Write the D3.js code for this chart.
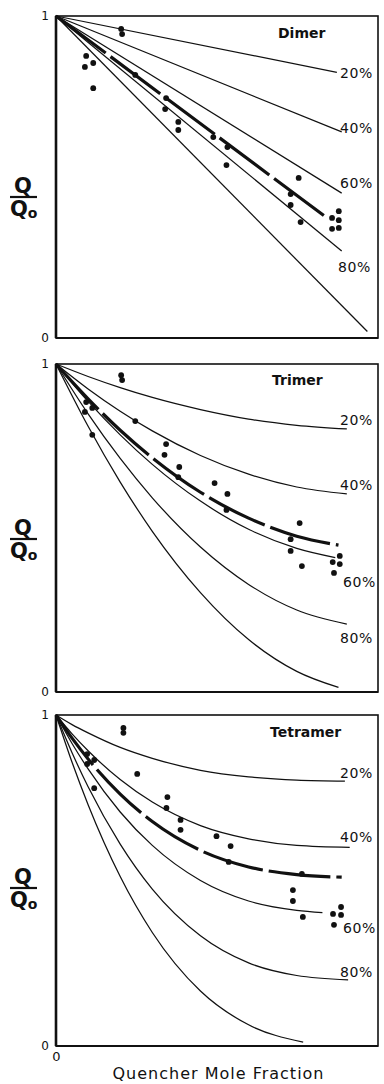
<!DOCTYPE html>
<html><head><meta charset="utf-8">
<script src="https://cdn.jsdelivr.net/npm/d3@7"></script>
<style>
html,body{margin:0;padding:0;background:#fff;}
svg{display:block;}
text{font-family:"DejaVu Sans",sans-serif;fill:#111;}
</style></head>
<body>
<script>
// ---------- DATA ----------
const panelNames = ["Dimer", "Trimer", "Tetramer"];
const percentLabels = ["20%", "40%", "60%", "80%"];
const yTickLabels = ["0", "1"];
const xTickLabels = ["0"];
const xAxisTitle = "Quencher Mole Fraction";

// Dimer (straight lines)
const dimer20 = [[0,1],[0.875,0.825]];
const dimer40 = [[0,1],[0.89,0.64]];
const dimer60 = [[0,1],[0.89,0.45]];
const dimer80 = [[0,1],[0.89,0.27]];
const dimer100 = [[0,1],[0.97,0.02]];
const dimerFit = [[0,1],[0.84,0.376]];

// Trimer
const trimer20 = [[0,1],[0.1,0.962],[0.2,0.928],[0.3,0.898],[0.45,0.861],[0.6,0.832],[0.75,0.813],[0.906,0.802]];
const trimer40 = [[0,1],[0.1,0.924],[0.2,0.856],[0.3,0.796],[0.45,0.721],[0.6,0.664],[0.75,0.625],[0.906,0.604]];
const trimer60 = [[0,1],[0.1,0.886],[0.2,0.784],[0.3,0.694],[0.45,0.582],[0.6,0.496],[0.75,0.438],[0.87,0.41]];
const trimer80 = [[0,1],[0.1,0.848],[0.2,0.712],[0.3,0.592],[0.45,0.442],[0.6,0.328],[0.75,0.25],[0.906,0.207]];
const trimer100 = [[0,1],[0.1,0.81],[0.2,0.64],[0.3,0.49],[0.45,0.303],[0.6,0.16],[0.75,0.063],[0.88,0.014]];
const trimerFit = [[0,1],[0.1,0.894],[0.2,0.798],[0.3,0.714],[0.45,0.609],[0.6,0.53],[0.75,0.475],[0.88,0.448]];

// Tetramer
const tetramer20 = [[0,1],[0.05,0.971],[0.1,0.946],[0.2,0.902],[0.3,0.869],[0.45,0.833],[0.6,0.813],[0.75,0.803],[0.9,0.8]];
const tetramer40 = [[0,1],[0.05,0.943],[0.1,0.892],[0.2,0.805],[0.3,0.737],[0.45,0.666],[0.6,0.626],[0.75,0.606],[0.915,0.6]];
const tetramer60 = [[0,1],[0.05,0.914],[0.1,0.837],[0.2,0.707],[0.3,0.606],[0.45,0.5],[0.6,0.438],[0.75,0.41],[0.83,0.403]];
const tetramer80 = [[0,1],[0.05,0.886],[0.1,0.783],[0.2,0.61],[0.3,0.474],[0.45,0.333],[0.6,0.251],[0.75,0.213],[0.91,0.2]];
const tetramer100 = [[0,1],[0.05,0.857],[0.1,0.729],[0.2,0.512],[0.3,0.343],[0.45,0.166],[0.6,0.064],[0.77,0.012]];
const tetramerFit = [[0,1],[0.05,0.93],[0.1,0.867],[0.2,0.761],[0.3,0.678],[0.45,0.591],[0.6,0.541],[0.75,0.518],[0.89,0.51]];

// Measured points
const dimerPoints = [[0.203,0.96],[0.206,0.944],[0.094,0.876],[0.09,0.842],[0.116,0.854],[0.116,0.776],[0.247,0.817],[0.343,0.745],[0.34,0.711],[0.381,0.671],[0.381,0.646],[0.49,0.624],[0.534,0.593],[0.531,0.537],[0.756,0.497],[0.731,0.447],[0.731,0.413],[0.762,0.36],[0.881,0.394],[0.86,0.373],[0.881,0.366],[0.86,0.339],[0.881,0.342]];
const trimerPoints = [[0.203,0.966],[0.206,0.951],[0.094,0.884],[0.09,0.854],[0.113,0.866],[0.113,0.784],[0.247,0.826],[0.343,0.756],[0.338,0.723],[0.384,0.686],[0.381,0.655],[0.494,0.637],[0.534,0.604],[0.531,0.555],[0.759,0.515],[0.731,0.466],[0.731,0.43],[0.766,0.384],[0.884,0.415],[0.862,0.396],[0.884,0.39],[0.866,0.363]];
const tetramerPoints = [[0.21,0.961],[0.21,0.946],[0.097,0.882],[0.097,0.852],[0.119,0.864],[0.119,0.779],[0.253,0.822],[0.347,0.752],[0.344,0.719],[0.388,0.683],[0.388,0.653],[0.5,0.634],[0.544,0.604],[0.538,0.556],[0.766,0.52],[0.738,0.471],[0.738,0.438],[0.769,0.39],[0.888,0.42],[0.863,0.399],[0.888,0.396],[0.866,0.366]];

const panelCurves = [
  [dimer20, dimer40, dimer60, dimer80, dimer100],
  [trimer20, trimer40, trimer60, trimer80, trimer100],
  [tetramer20, tetramer40, tetramer60, tetramer80, tetramer100]
];
const panelFits = [dimerFit, trimerFit, tetramerFit];
const panelPoints = [dimerPoints, trimerPoints, tetramerPoints];

// ---------- LAYOUT ----------
const W = 384, H = 1084;
const plotLeft = 56, plotRight = 377, frameRight = 378;
const panelTop = [16, 364, 715];
const panelBottom = [338, 692, 1046];
const titlePos = [[278,38],[272,385],[270,737]];
const pctPos = [
  [[340,78],[340,133],[340,188],[338,272]],
  [[340,425],[340,490],[343,587],[340,643]],
  [[340,778],[340,842],[343,933],[340,977]]
];
const fracBarY = [197, 539, 888];

const svg = d3.select("body").append("svg").attr("width", W).attr("height", H);
const x = d3.scaleLinear().domain([0,1]).range([plotLeft, plotRight]);

panelNames.forEach((name, i) => {
  const y = d3.scaleLinear().domain([0,1]).range([panelBottom[i], panelTop[i]]);
  const g = svg.append("g");

  // frame
  g.append("rect").attr("x", plotLeft).attr("y", panelTop[i])
    .attr("width", frameRight - plotLeft).attr("height", panelBottom[i] - panelTop[i])
    .attr("fill", "none").attr("stroke", "#111").attr("stroke-width", 1.6);
  g.append("line").attr("x1", plotLeft).attr("x2", plotLeft)
    .attr("y1", panelTop[i]).attr("y2", panelBottom[i])
    .attr("stroke", "#111").attr("stroke-width", 2.6);
  g.append("line").attr("x1", plotLeft).attr("x2", frameRight)
    .attr("y1", panelBottom[i]).attr("y2", panelBottom[i])
    .attr("stroke", "#111").attr("stroke-width", 2.2);

  // y tick labels via axis scale
  const yAxis = d3.axisLeft(y).tickValues([0,1]).tickFormat((d) => yTickLabels[d]).tickSize(0).tickPadding(7);
  const ya = g.append("g").attr("transform", `translate(${plotLeft},0)`).call(yAxis);
  ya.select(".domain").remove();
  ya.selectAll("text").style("font-family", "DejaVu Sans, sans-serif").style("font-size", "12px").attr("fill", "#111");

  const line = d3.line().x(d => x(d[0])).y(d => y(d[1]))
    .curve(i === 0 ? d3.curveLinear : d3.curveMonotoneX);

  panelCurves[i].forEach(c => {
    g.append("path").attr("d", line(c)).attr("fill", "none")
      .attr("stroke", "#111").attr("stroke-width", 1.25);
  });
  g.append("path").attr("d", line(panelFits[i])).attr("fill", "none")
    .attr("stroke", "#111").attr("stroke-width", 3.2)
    .attr("stroke-dasharray", "62,6");

  g.selectAll("circle.pt").data(panelPoints[i]).enter().append("circle")
    .attr("cx", d => x(d[0])).attr("cy", d => y(d[1])).attr("r", 2.9).attr("fill", "#111");

  // title
  g.append("text").attr("x", titlePos[i][0]).attr("y", titlePos[i][1])
    .style("font-size", "14px").style("font-weight", "bold").text(name);

  // percent labels
  percentLabels.forEach((t, k) => {
    g.append("text").attr("x", pctPos[i][k][0]).attr("y", pctPos[i][k][1])
      .style("font-size", "14px").style("letter-spacing", "0.6px").text(t);
  });

  // Q / Q0 fraction
  const bx = 23, by = fracBarY[i];
  g.append("text").attr("x", bx).attr("y", by - 4).attr("text-anchor", "middle")
    .style("font-size", "21px").style("font-weight", "bold").text("Q");
  g.append("line").attr("x1", 10).attr("x2", 37).attr("y1", by).attr("y2", by)
    .attr("stroke", "#111").attr("stroke-width", 2.2);
  const q0 = g.append("text").attr("x", 10).attr("y", by + 19)
    .style("font-size", "21px").style("font-weight", "bold");
  q0.append("tspan").text("Q");
  q0.append("tspan").attr("dy", 2).style("font-size", "14px").text("o");
});

// x tick label and title (bottom panel)
const xAxis = d3.axisBottom(x).tickValues([0]).tickFormat((d, k) => xTickLabels[k]).tickSize(0).tickPadding(6);
const xa = svg.append("g").attr("transform", `translate(0,${panelBottom[2]})`).call(xAxis);
xa.select(".domain").remove();
xa.selectAll("text").style("font-family", "DejaVu Sans, sans-serif").style("font-size", "13px").attr("fill", "#111");

svg.append("text").attr("x", (97 + 340) / 2).attr("y", 1079).attr("text-anchor", "middle")
  .style("font-size", "16px").style("letter-spacing", "1px").text(xAxisTitle);
</script>
</body></html>
